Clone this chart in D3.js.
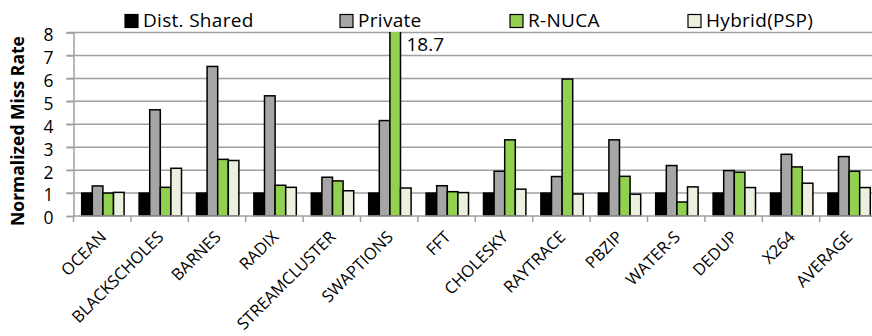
<!DOCTYPE html>
<html>
<head>
<meta charset="utf-8">
<script src="https://cdn.jsdelivr.net/npm/d3@7"></script>
<style>
  html, body { margin: 0; padding: 0; background: #fff; }
  svg { display: block; font-family: "Open Sans", "Noto Sans", sans-serif; }
</style>
</head>
<body>
<svg id="chart" width="872" height="336"></svg>
<script>
// Benchmarks along the x axis
const categories = ["OCEAN", "BLACKSCHOLES", "BARNES", "RADIX", "STREAMCLUSTER", "SWAPTIONS",
  "FFT", "CHOLESKY", "RAYTRACE", "PBZIP", "WATER-S", "DEDUP", "X264", "AVERAGE"];

// Normalized miss rate per scheme
const series = ["Dist. Shared", "Private", "R-NUCA", "Hybrid(PSP)"];
const distShared = [1, 1, 1, 1, 1, 1, 1, 1, 1, 1, 1, 1, 1, 1];
const privateVals = [1.31, 4.63, 6.52, 5.24, 1.69, 4.16, 1.32, 1.95, 1.72, 3.32, 2.20, 1.98, 2.69, 2.59];
const rnuca = [1.0, 1.25, 2.47, 1.34, 1.53, 18.7, 1.06, 3.32, 5.97, 1.73, 0.61, 1.91, 2.14, 1.95];
const hybrid = [1.03, 2.08, 2.42, 1.25, 1.10, 1.22, 1.02, 1.17, 0.96, 0.95, 1.27, 1.24, 1.43, 1.24];
const seriesValues = [distShared, privateVals, rnuca, hybrid];
const seriesColors = ["#000000", "#a6a6a6", "#92d050", "#ebf1de"];

const yTicks = [0, 1, 2, 3, 4, 5, 6, 7, 8];
const yMax = 8;

const svg = d3.select("#chart");
const plotLeft = 73.5, plotTop = 32.5, plotBottom = 216;
const step = 57.4;
const plotRight = plotLeft + step * categories.length;

const x = d3.scaleBand().domain(categories).range([plotLeft, plotRight]).padding(0);
const xi = d3.scaleBand().domain(series).range([8.2, 50.6]).padding(0);
const y = d3.scaleLinear().domain([0, yMax]).range([plotBottom, plotTop]);

// Horizontal gridlines
svg.append("g")
  .selectAll("line")
  .data(yTicks.filter(t => t > 0))
  .join("line")
  .attr("x1", plotLeft - 7).attr("x2", 872)
  .attr("y1", d => y(d)).attr("y2", d => y(d))
  .attr("stroke", "#a0a0a0").attr("stroke-width", 1.5);

// Y axis
const yAxis = svg.append("g")
  .attr("transform", `translate(${plotLeft},0)`)
  .call(d3.axisLeft(y).tickValues(yTicks).tickSize(7).tickPadding(13).tickFormat(d3.format("d")));
yAxis.select(".domain").attr("stroke", "#a0a0a0").attr("stroke-width", 1.5);
yAxis.selectAll(".tick line").attr("stroke", "#a0a0a0").attr("stroke-width", 1.5);
yAxis.selectAll(".tick text")
  .attr("font-size", 17.5).attr("fill", "#000")
  .attr("dy", "0.45em")
  .attr("font-family", "'Open Sans', sans-serif");

// Bars
const clip = svg.append("defs").append("clipPath").attr("id", "plotClip");
clip.append("rect").attr("x", plotLeft).attr("y", plotTop - 0.5).attr("width", 900).attr("height", plotBottom - plotTop + 1);

const barsG = svg.append("g").attr("clip-path", "url(#plotClip)");
categories.forEach((cat, ci) => {
  series.forEach((s, si) => {
    const v = seriesValues[si][ci];
    barsG.append("rect")
      .attr("x", x(cat) + xi(s))
      .attr("y", y(v))
      .attr("width", xi.bandwidth())
      .attr("height", y(0) - y(v))
      .attr("fill", seriesColors[si])
      .attr("stroke", "#000")
      .attr("stroke-width", 1.5);
  });
});

// X axis baseline and category boundary ticks
svg.append("line")
  .attr("x1", plotLeft).attr("x2", 872)
  .attr("y1", plotBottom).attr("y2", plotBottom)
  .attr("stroke", "#a0a0a0").attr("stroke-width", 1.5);
svg.append("g")
  .selectAll("line")
  .data(categories)
  .join("line")
  .attr("x1", d => x(d)).attr("x2", d => x(d))
  .attr("y1", plotBottom).attr("y2", plotBottom + 6)
  .attr("stroke", "#a0a0a0").attr("stroke-width", 1.5);

// Rotated category labels
svg.append("g")
  .selectAll("text")
  .data(categories)
  .join("text")
  .attr("transform", d => `translate(${x(d) + x.bandwidth() / 2 + 5},${plotBottom + 22}) rotate(-45)`)
  .attr("text-anchor", "end")
  .attr("font-size", 16.5)
  .attr("fill", "#000")
  .text(d => d);

// Value label for the off-scale bar
const offIdx = rnuca.findIndex(v => v > yMax);
svg.append("text")
  .attr("x", x(categories[offIdx]) + xi("R-NUCA") + xi.bandwidth() + 6)
  .attr("y", 51)
  .attr("font-size", 19)
  .attr("fill", "#000")
  .text(d3.format(".1f")(rnuca[offIdx]));

// Y axis title
svg.append("text")
  .attr("transform", `translate(24,131) rotate(-90)`)
  .attr("text-anchor", "middle")
  .attr("font-size", 17.5)
  .attr("font-weight", "bold")
  .attr("fill", "#000")
  .text("Normalized Miss Rate");

// Legend
const legendX = [125, 340, 510, 688];
const legend = svg.append("g");
series.forEach((s, i) => {
  legend.append("rect")
    .attr("x", legendX[i]).attr("y", 14.5)
    .attr("width", 13).attr("height", 13)
    .attr("fill", seriesColors[i])
    .attr("stroke", "#000").attr("stroke-width", 1.2);
  legend.append("text")
    .attr("x", legendX[i] + 18).attr("y", 27)
    .attr("font-size", 19)
    .attr("letter-spacing", 0.3)
    .attr("fill", "#000")
    .text(s);
});
</script>
</body>
</html>
